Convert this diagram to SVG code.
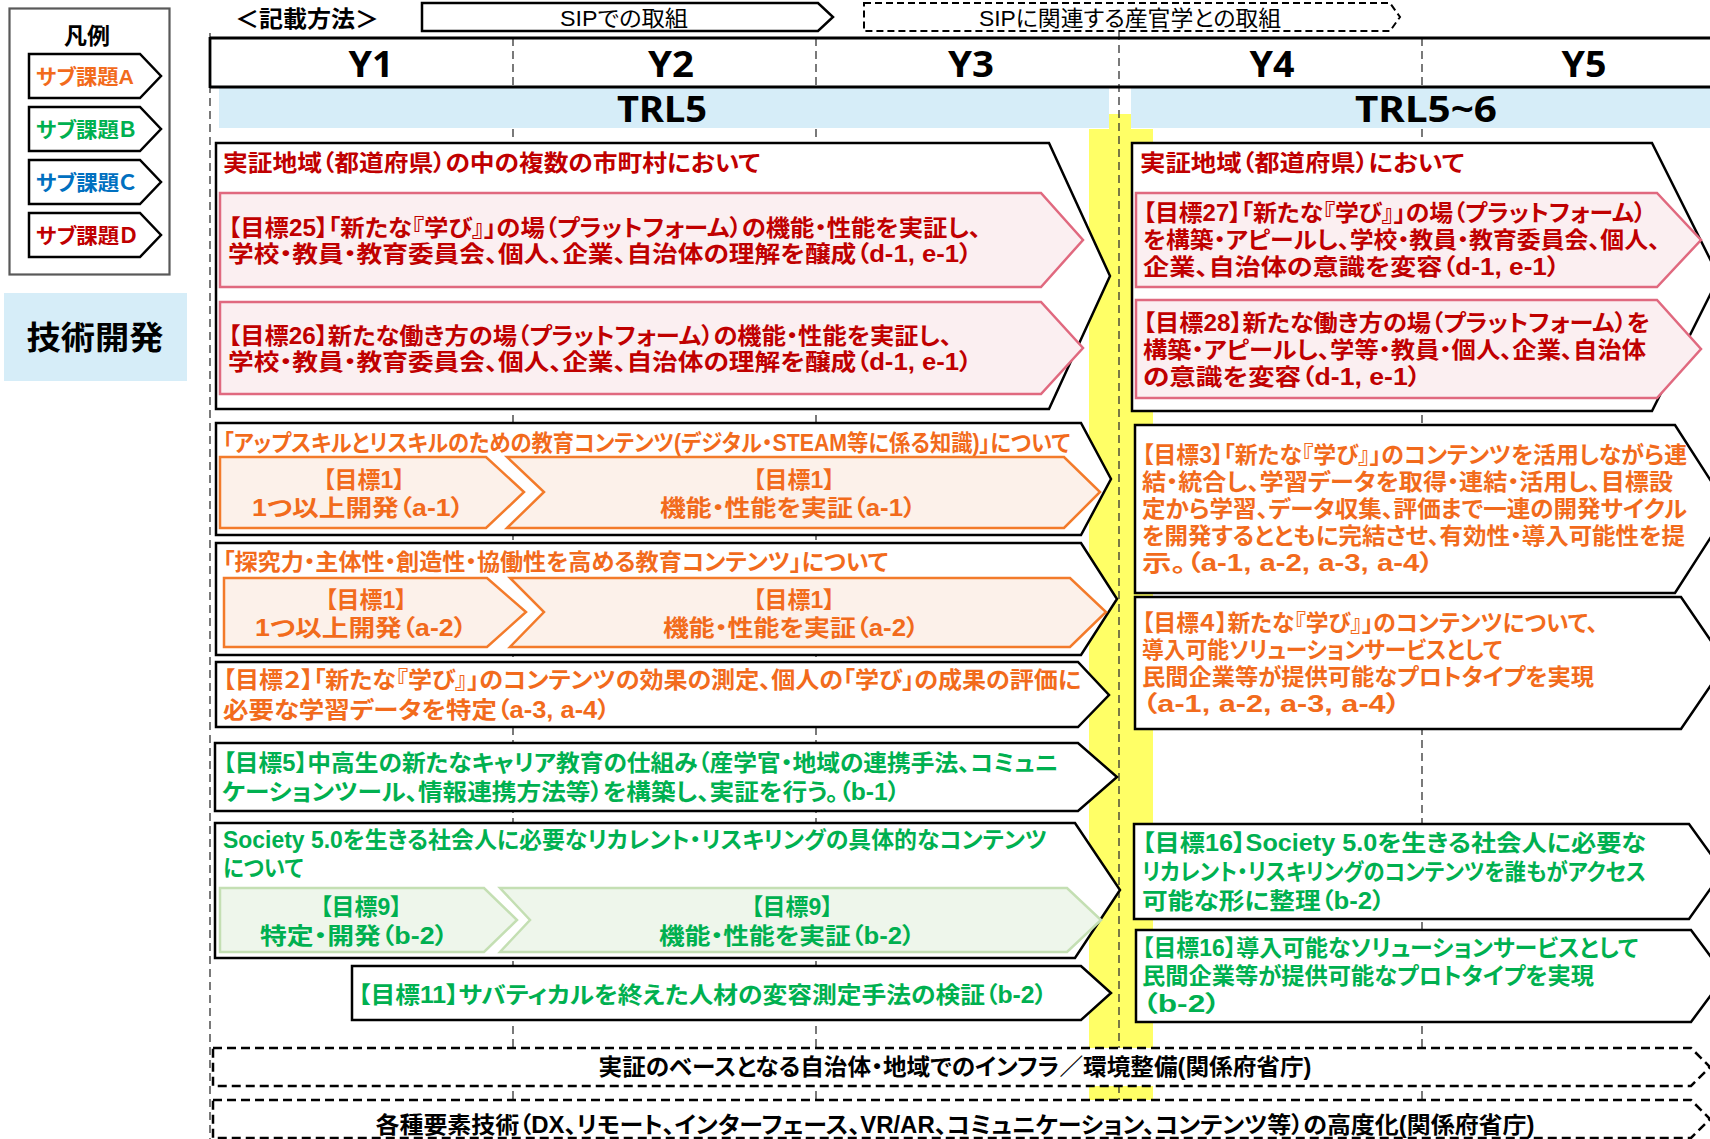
<svg xmlns="http://www.w3.org/2000/svg" width="1710" height="1139" viewBox="0 0 1710 1139">
<style>
.t{font-family:"Liberation Sans","Noto Sans CJK JP",sans-serif;font-weight:700;font-feature-settings:"palt";font-size:23px}
.n{font-weight:400;font-size:22px}
.d{fill:#c00000}.a{fill:#f26b1c}.b{fill:#00b050}.c{fill:#0070c0}.k{fill:#000}
.m{text-anchor:middle}
.lat{font-family:"Noto Sans","Liberation Sans",sans-serif;font-weight:700;font-size:35px;fill:#000}
.box{fill:#fff;stroke:#000;stroke-width:2.5;stroke-linejoin:miter}
.dbox{fill:#fff;stroke:#000;stroke-width:2.5;stroke-dasharray:9 5}
.pk{fill:#fbeff1;stroke:#e0697f;stroke-width:2.5}
.or{fill:#fcf1ea;stroke:#f37b2b;stroke-width:2.5}
.gr{fill:#eef6eb;stroke:#c4dfb3;stroke-width:2.5}
.grid{stroke:#333;stroke-width:1.3;stroke-dasharray:8 5;fill:none}
.band{fill:#d6edf8}
</style>

<g id="grid">
<line class="grid" x1="513" y1="38" x2="513" y2="1139"/>
<line class="grid" x1="816" y1="38" x2="816" y2="1139"/>
<line class="grid" x1="1422" y1="38" x2="1422" y2="1139"/>
</g>

<g id="trl-bands">
<rect class="band" x="219" y="88" width="890" height="40"/>
<rect class="band" x="1131" y="88" width="579" height="40"/>
<text class="lat m" x="662" y="122" textLength="90" lengthAdjust="spacingAndGlyphs">TRL5</text>
<text class="lat m" x="1426" y="122" textLength="142" lengthAdjust="spacingAndGlyphs">TRL5~6</text>
</g>

<g id="yellow-band">
<rect x="1109" y="114" width="22" height="16" fill="#ffff66"/>
<rect x="1089" y="129" width="64" height="971" fill="#ffff66"/>
</g>

<g id="grid-2">
<line class="grid" x1="210" y1="33" x2="210" y2="1139"/>
<line class="grid" x1="1119" y1="32" x2="1119" y2="1139"/>
</g>

<g id="legend">
<rect x="9.5" y="8.5" width="160" height="266" fill="#fff" stroke="#595959" stroke-width="2.2"/>
<text class="t k m" x="87" y="44" style="font-size:23px">凡例</text>
<polygon class="box" points="29,54 140,54 161,76 140,98 29,98"/>
<text class="t a" x="36" y="84" style="font-size:21px" textLength="98" lengthAdjust="spacingAndGlyphs">サブ課題A</text>
<polygon class="box" points="29,107 140,107 161,129 140,151 29,151"/>
<text class="t b" x="36" y="137" style="font-size:21px" textLength="100" lengthAdjust="spacingAndGlyphs">サブ課題Ｂ</text>
<polygon class="box" points="29,160 140,160 161,182 140,204 29,204"/>
<text class="t c" x="36" y="190" style="font-size:21px" textLength="100" lengthAdjust="spacingAndGlyphs">サブ課題Ｃ</text>
<polygon class="box" points="29,213 140,213 161,235 140,257 29,257"/>
<text class="t d" x="36" y="243" style="font-size:21px" textLength="101" lengthAdjust="spacingAndGlyphs">サブ課題Ｄ</text>
</g>

<g id="tech-dev">
<rect x="4" y="293" width="183" height="88" fill="#d6edf8"/>
<text class="t k m" x="95" y="349" style="font-size:32px" textLength="137" lengthAdjust="spacingAndGlyphs">技術開発</text>
</g>

<g id="notation">
<text class="t k m" x="307" y="27" textLength="144" lengthAdjust="spacingAndGlyphs">＜記載方法＞</text>
<polygon class="box" points="422,3 818,3 833,17 818,31 422,31" stroke-width="2"/>
<text class="t n k m" x="624" y="26" textLength="128" lengthAdjust="spacingAndGlyphs">SIPでの取組</text>
<polygon points="864,3 1390,3 1400,17 1390,31 864,31" fill="#fff" stroke="#000" stroke-width="2" stroke-dasharray="7 4"/>
<text class="t n k m" x="1130" y="26" textLength="302" lengthAdjust="spacingAndGlyphs">SIPに関連する産官学との取組</text>
</g>

<g id="year-header">
<line x1="210" y1="38" x2="1710" y2="38" stroke="#000" stroke-width="2.8"/>
<line x1="210" y1="87" x2="1710" y2="87" stroke="#000" stroke-width="2.8"/>
<line x1="210" y1="37" x2="210" y2="88" stroke="#000" stroke-width="2.8"/>
<text class="lat m" x="371" y="77" textLength="45" lengthAdjust="spacingAndGlyphs">Y1</text>
<text class="lat m" x="671" y="77" textLength="46" lengthAdjust="spacingAndGlyphs">Y2</text>
<text class="lat m" x="971" y="77" textLength="46" lengthAdjust="spacingAndGlyphs">Y3</text>
<text class="lat m" x="1272" y="77" textLength="45" lengthAdjust="spacingAndGlyphs">Y4</text>
<text class="lat m" x="1584" y="77" textLength="45" lengthAdjust="spacingAndGlyphs">Y5</text>
</g>

<g id="d-left">
<polygon class="box" points="216,143 1049,143 1110,276 1049,409 216,409"/>
<text class="t d" x="223" y="171" textLength="537" lengthAdjust="spacingAndGlyphs">実証地域（都道府県）の中の複数の市町村において</text>
<polygon class="pk" points="220,193 1041,193 1083,240 1041,287 220,287"/>
<text class="t d" x="228" y="236" textLength="753" lengthAdjust="spacingAndGlyphs">【目標25】「新たな『学び』」の場（プラットフォーム）の機能・性能を実証し、</text>
<text class="t d" x="228" y="262" textLength="744" lengthAdjust="spacingAndGlyphs">学校・教員・教育委員会、個人、企業、自治体の理解を醸成（d-1, e-1）</text>
<polygon class="pk" points="220,302 1041,302 1083,348 1041,394 220,394"/>
<text class="t d" x="228" y="344" textLength="724" lengthAdjust="spacingAndGlyphs">【目標26】新たな働き方の場（プラットフォーム）の機能・性能を実証し、</text>
<text class="t d" x="228" y="370" textLength="744" lengthAdjust="spacingAndGlyphs">学校・教員・教育委員会、個人、企業、自治体の理解を醸成（d-1, e-1）</text>
</g>

<g id="d-right">
<polygon class="box" points="1132,143 1652,143 1719,277 1652,411 1132,411"/>
<text class="t d" x="1140" y="171" textLength="324" lengthAdjust="spacingAndGlyphs">実証地域（都道府県）において</text>
<polygon class="pk" points="1136,193 1657,193 1701,240 1657,287 1136,287"/>
<text class="t d" x="1143" y="221" textLength="503" lengthAdjust="spacingAndGlyphs">【目標27】「新たな『学び』」の場（プラットフォーム）</text>
<text class="t d" x="1143" y="248" textLength="517" lengthAdjust="spacingAndGlyphs">を構築・アピールし、学校・教員・教育委員会、個人、</text>
<text class="t d" x="1143" y="275" textLength="417" lengthAdjust="spacingAndGlyphs">企業、自治体の意識を変容（d-1, e-1）</text>
<polygon class="pk" points="1136,300 1657,300 1701,349 1657,398 1136,398"/>
<text class="t d" x="1143" y="331" textLength="507" lengthAdjust="spacingAndGlyphs">【目標28】新たな働き方の場（プラットフォーム）を</text>
<text class="t d" x="1143" y="358" textLength="503" lengthAdjust="spacingAndGlyphs">構築・アピールし、学等・教員・個人、企業、自治体</text>
<text class="t d" x="1143" y="385" textLength="278" lengthAdjust="spacingAndGlyphs">の意識を変容（d-1, e-1）</text>
</g>

<g id="a-upskill">
<polygon class="box" points="216,423 1081,423 1111,479 1081,535 216,535"/>
<text class="t a" x="223" y="451" textLength="847" lengthAdjust="spacingAndGlyphs">「アップスキルとリスキルのための教育コンテンツ(デジタル・STEAM等に係る知識)」について</text>
<polygon class="or" points="220,457 486,457 524,492 486,528 220,528"/>
<text class="t a m" x="364" y="488">【目標1】</text>
<text class="t a m" x="358" y="516" textLength="212" lengthAdjust="spacingAndGlyphs">1つ以上開発（a-1）</text>
<polygon class="or" points="507,457 1064,457 1100,492 1064,528 507,528 544,492"/>
<text class="t a m" x="794" y="488">【目標1】</text>
<text class="t a m" x="788" y="516" textLength="256" lengthAdjust="spacingAndGlyphs">機能・性能を実証（a-1）</text>
</g>

<g id="a-inquiry">
<polygon class="box" points="216,543 1081,543 1117,599 1081,655 216,655"/>
<text class="t a" x="223" y="570" textLength="665" lengthAdjust="spacingAndGlyphs">「探究力・主体性・創造性・協働性を高める教育コンテンツ」について</text>
<polygon class="or" points="224,578 487,578 526,612 487,647 224,647"/>
<text class="t a m" x="366" y="608">【目標1】</text>
<text class="t a m" x="361" y="636" textLength="212" lengthAdjust="spacingAndGlyphs">1つ以上開発（a-2）</text>
<polygon class="or" points="510,578 1070,578 1106,612 1070,647 510,647 544,612"/>
<text class="t a m" x="794" y="608">【目標1】</text>
<text class="t a m" x="791" y="636" textLength="256" lengthAdjust="spacingAndGlyphs">機能・性能を実証（a-2）</text>
</g>

<g id="a-goal2">
<polygon class="box" points="216,662 1078,662 1109,695 1078,727 216,727"/>
<text class="t a" x="223" y="688" textLength="858" lengthAdjust="spacingAndGlyphs">【目標２】「新たな『学び』」のコンテンツの効果の測定、個人の「学び」の成果の評価に</text>
<text class="t a" x="223" y="718" textLength="387" lengthAdjust="spacingAndGlyphs">必要な学習データを特定（a-3, a-4）</text>
</g>

<g id="a-goal3">
<polygon class="box" points="1135,425 1675,425 1729,509 1675,593 1135,593"/>
<text class="t a" x="1142" y="463" textLength="545" lengthAdjust="spacingAndGlyphs">【目標3】「新たな『学び』」のコンテンツを活用しながら連</text>
<text class="t a" x="1142" y="490" textLength="531" lengthAdjust="spacingAndGlyphs">結・統合し、学習データを取得・連結・活用し、目標設</text>
<text class="t a" x="1142" y="517" textLength="545" lengthAdjust="spacingAndGlyphs">定から学習、データ収集、評価まで一連の開発サイクル</text>
<text class="t a" x="1142" y="544" textLength="543" lengthAdjust="spacingAndGlyphs">を開発するとともに完結させ、有効性・導入可能性を提</text>
<text class="t a" x="1142" y="571" textLength="292" lengthAdjust="spacingAndGlyphs">示。（a-1, a-2, a-3, a-4）</text>
</g>

<g id="a-goal4">
<polygon class="box" points="1135,597 1681,597 1726,663 1681,729 1135,729"/>
<text class="t a" x="1142" y="631" textLength="456" lengthAdjust="spacingAndGlyphs">【目標４】新たな『学び』」のコンテンツについて、</text>
<text class="t a" x="1142" y="658" textLength="360" lengthAdjust="spacingAndGlyphs">導入可能ソリューションサービスとして</text>
<text class="t a" x="1142" y="685" textLength="452" lengthAdjust="spacingAndGlyphs">民間企業等が提供可能なプロトタイプを実現</text>
<text class="t a" x="1142" y="712" textLength="259" lengthAdjust="spacingAndGlyphs">（a-1, a-2, a-3, a-4）</text>
</g>

<g id="b-goal5">
<polygon class="box" points="215,743 1078,743 1117,777 1078,811 215,811"/>
<text class="t b" x="223" y="771" textLength="835" lengthAdjust="spacingAndGlyphs">【目標5】中高生の新たなキャリア教育の仕組み（産学官・地域の連携手法、コミュニ</text>
<text class="t b" x="222" y="800" textLength="678" lengthAdjust="spacingAndGlyphs">ケーションツール、情報連携方法等）を構築し、実証を行う。（b-1）</text>
</g>

<g id="b-society">
<polygon class="box" points="215,823 1075,823 1120,890 1075,958 215,958"/>
<text class="t b" x="223" y="848" textLength="824" lengthAdjust="spacingAndGlyphs">Society 5.0を生きる社会人に必要なリカレント・リスキリングの具体的なコンテンツ</text>
<text class="t b" x="223" y="876" textLength="80" lengthAdjust="spacingAndGlyphs">について</text>
<polygon class="gr" points="220,888 484,888 517,920 484,952 220,952"/>
<text class="t b m" x="361" y="915">【目標9】</text>
<text class="t b m" x="354" y="944" textLength="188" lengthAdjust="spacingAndGlyphs">特定・開発（b-2）</text>
<polygon class="gr" points="500,888 1067,888 1101,920 1067,952 500,952 530,920"/>
<text class="t b m" x="792" y="915">【目標9】</text>
<text class="t b m" x="787" y="944" textLength="256" lengthAdjust="spacingAndGlyphs">機能・性能を実証（b-2）</text>
</g>

<g id="b-goal11">
<polygon class="box" points="352,966 1081,966 1111,993 1081,1020 352,1020"/>
<text class="t b" x="358" y="1003" textLength="689" lengthAdjust="spacingAndGlyphs">【目標11】サバティカルを終えた人材の変容測定手法の検証（b-2）</text>
</g>

<g id="b-goal16a">
<polygon class="box" points="1134,824 1689,824 1723,871 1689,919 1134,919"/>
<text class="t b" x="1142" y="851" textLength="504" lengthAdjust="spacingAndGlyphs">【目標16】Society 5.0を生きる社会人に必要な</text>
<text class="t b" x="1142" y="880" textLength="504" lengthAdjust="spacingAndGlyphs">リカレント・リスキリングのコンテンツを誰もがアクセス</text>
<text class="t b" x="1142" y="909" textLength="243" lengthAdjust="spacingAndGlyphs">可能な形に整理（b-2）</text>
</g>

<g id="b-goal16b">
<polygon class="box" points="1136,930 1691,930 1725,976 1691,1022 1136,1022"/>
<text class="t b" x="1142" y="956" textLength="496" lengthAdjust="spacingAndGlyphs">【目標16】導入可能なソリューションサービスとして</text>
<text class="t b" x="1142" y="984" textLength="452" lengthAdjust="spacingAndGlyphs">民間企業等が提供可能なプロトタイプを実現</text>
<text class="t b" x="1142" y="1012" textLength="79" lengthAdjust="spacingAndGlyphs">（b-2）</text>
</g>

<g id="infra">
<polygon class="dbox" points="213,1048 1691,1048 1710,1067 1691,1086 213,1086"/>
<text class="t k m" x="955" y="1075" textLength="713" lengthAdjust="spacingAndGlyphs">実証のベースとなる自治体・地域でのインフラ／環境整備(関係府省庁)</text>
</g>

<g id="elem-tech">
<polygon class="dbox" points="213,1100 1691,1100 1710,1119 1691,1138 213,1138"/>
<text class="t k m" x="955" y="1133" textLength="1159" lengthAdjust="spacingAndGlyphs">各種要素技術（DX、リモート、インターフェース、VR/AR、コミュニケーション、コンテンツ等）の高度化(関係府省庁)</text>
</g>

<g id="connectors"></g>
</svg>
